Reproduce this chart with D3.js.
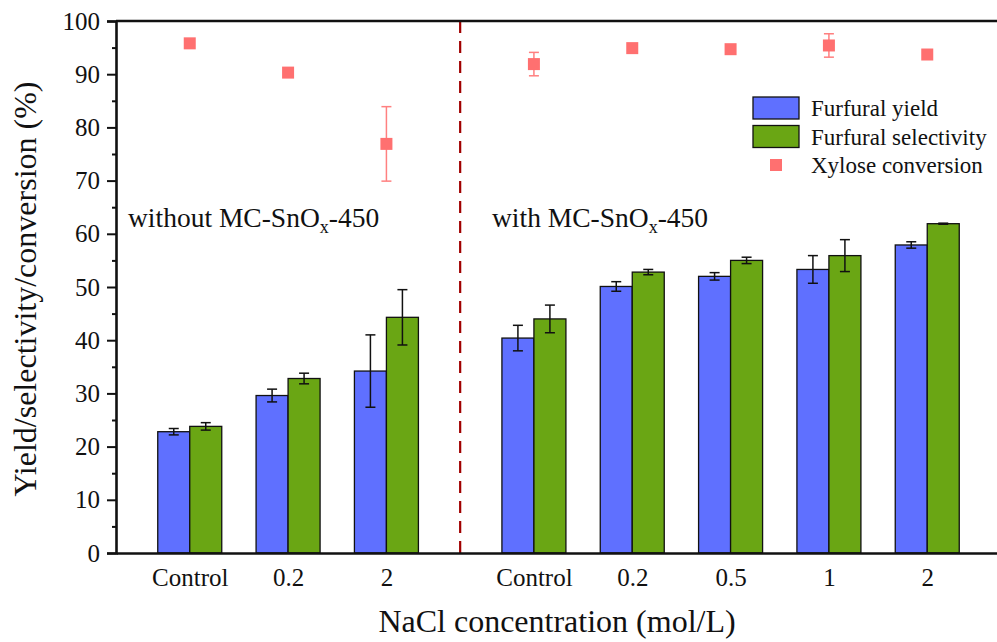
<!DOCTYPE html>
<html>
<head>
<meta charset="utf-8">
<script src="https://cdn.jsdelivr.net/npm/d3@7"></script>
<style>
  body { margin: 0; background: #fff; }
</style>
</head>
<body>
<div id="chart-area"></div>
<script>
// Data
var labels = ["Control", "0.2", "2", "Control", "0.2", "0.5", "1", "2"];
var groups = [0, 0, 0, 1, 1, 1, 1, 1];
var yieldVals = [22.8, 29.6, 34.2, 40.4, 50.1, 52.0, 53.3, 57.9];
var yieldErr = [0.6, 1.2, 6.8, 2.4, 0.9, 0.7, 2.6, 0.6];
var selVals = [23.8, 32.8, 44.3, 44.0, 52.8, 55.0, 55.9, 61.9];
var selErr = [0.7, 1.0, 5.2, 2.6, 0.5, 0.6, 3.0, 0.1];
var convVals = [95.8, 90.3, 76.9, 91.9, 94.9, 94.7, 95.4, 93.7];
var convErr = [0.3, 0.6, 7.0, 2.2, 0.3, 0.3, 2.2, 0.3];
var yTicks = [0, 10, 20, 30, 40, 50, 60, 70, 80, 90, 100];
var groupTitles = ["without MC-SnO", "with MC-SnO"];
var legendNames = ["Furfural yield", "Furfural selectivity", "Xylose conversion"];

var colors = { yield: "#5f70ff", sel: "#6aa614", conv: "#ff7070", divider: "#a00000" };
var serif = "'Liberation Serif', 'Times New Roman', Times, serif";

var W = 997, H = 642;
var margin = {top: 21, left: 116, bottom: 89};
var plotRight = 1001;

var svg = d3.select("#chart-area").append("svg")
    .attr("width", W)
    .attr("height", H);

// slot index: second group starts after an extra half slot
var slots = labels.map((d, i) => { return groups[i] === 0 ? i : i + 0.5; });

var x = d3.scaleLinear().domain([-0.75, 8.25]).range([margin.left, plotRight]);
var y = d3.scaleLinear().domain([0, 100]).range([H - margin.bottom, margin.top]);

var barW = 32;

var rows = labels.map((d, i) => {
    return { i: i, pos: slots[i], yv: yieldVals[i], ye: yieldErr[i],
             sv: selVals[i], se: selErr[i], cv: convVals[i], ce: convErr[i] };
});

// Bars
svg.selectAll(".bar-yield").data(rows).enter().append("rect")
    .attr("class", "bar-yield")
    .attr("x", (d) => { return x(d.pos) - barW; })
    .attr("y", (d) => { return y(d.yv); })
    .attr("width", barW)
    .attr("height", (d) => { return y(0) - y(d.yv); })
    .attr("fill", colors.yield)
    .attr("stroke", "#111")
    .attr("stroke-width", 1.3);

svg.selectAll(".bar-sel").data(rows).enter().append("rect")
    .attr("class", "bar-sel")
    .attr("x", (d) => { return x(d.pos); })
    .attr("y", (d) => { return y(d.sv); })
    .attr("width", barW)
    .attr("height", (d) => { return y(0) - y(d.sv); })
    .attr("fill", colors.sel)
    .attr("stroke", "#111")
    .attr("stroke-width", 1.3);

// Error bars
function errBar(cx, v, e, color, cap) {
    var g = svg.append("g").attr("stroke", color).attr("stroke-width", 1.5);
    g.append("line").attr("x1", cx).attr("x2", cx).attr("y1", y(v - e)).attr("y2", y(v + e));
    g.append("line").attr("x1", cx - cap).attr("x2", cx + cap).attr("y1", y(v + e)).attr("y2", y(v + e));
    g.append("line").attr("x1", cx - cap).attr("x2", cx + cap).attr("y1", y(v - e)).attr("y2", y(v - e));
}
rows.forEach((d) => {
    errBar(x(d.pos) - barW / 2, d.yv, d.ye, "#111", 5);
    errBar(x(d.pos) + barW / 2, d.sv, d.se, "#111", 5);
    errBar(x(d.pos), d.cv, d.ce, "#ff8080", 5);
});

// Conversion markers
svg.selectAll(".conv").data(rows).enter().append("rect")
    .attr("class", "conv")
    .attr("x", (d) => { return x(d.pos) - 6; })
    .attr("y", (d) => { return y(d.cv) - 6; })
    .attr("width", 12)
    .attr("height", 12)
    .attr("fill", colors.conv);

// Divider
svg.append("line")
    .attr("x1", x(2.75)).attr("x2", x(2.75))
    .attr("y1", y(100)).attr("y2", y(0))
    .attr("stroke", colors.divider)
    .attr("stroke-width", 2.2)
    .attr("stroke-dasharray", "12,8");

// Axes
var yAxis = svg.append("g")
    .attr("transform", "translate(" + margin.left + ",0)")
    .call(d3.axisLeft(y).tickValues(yTicks).tickSize(9).tickPadding(7).tickFormat(d3.format("d")));
var yMinor = svg.append("g")
    .attr("transform", "translate(" + margin.left + ",0)")
    .call(d3.axisLeft(y).tickValues(d3.range(5, 100, 10)).tickSize(4).tickFormat(""));
yMinor.select(".domain").remove();

var xAxis = svg.append("g")
    .attr("transform", "translate(0," + y(0) + ")")
    .call(d3.axisBottom(x).tickValues(slots).tickSize(0).tickPadding(15)
        .tickFormat((d, i) => { return labels[i]; }));

svg.selectAll(".tick line").attr("stroke", "#111").attr("stroke-width", 2);
svg.selectAll(".domain").attr("stroke", "#111").attr("stroke-width", 2.6);
yAxis.selectAll("text").attr("font-size", 25).attr("fill", "#111");
xAxis.selectAll("text").attr("font-size", 25).attr("fill", "#111");

// Top frame line
svg.append("line")
    .attr("x1", margin.left).attr("x2", plotRight)
    .attr("y1", y(100)).attr("y2", y(100))
    .attr("stroke", "#111").attr("stroke-width", 2.6);

// Axis titles
svg.append("text")
    .attr("transform", "rotate(-90)")
    .attr("x", -289)
    .attr("y", 36)
    .attr("text-anchor", "middle")
    .attr("font-size", 32)
    .attr("fill", "#111")
    .text("Yield/selectivity/conversion (%)");

svg.append("text")
    .attr("x", 557)
    .attr("y", 632)
    .attr("text-anchor", "middle")
    .attr("font-size", 32)
    .attr("fill", "#111")
    .text("NaCl concentration (mol/L)");

// Group titles
var titleX = [128, 492];
groupTitles.forEach((t, i) => {
    var tx = svg.append("text")
        .attr("x", titleX[i])
        .attr("y", 227)
        .attr("font-size", 27.5)
        .attr("fill", "#111");
    tx.append("tspan").text(t);
    tx.append("tspan").attr("font-size", 18).attr("dy", 6).text("x");
    tx.append("tspan").attr("dy", -6).text("-450");
});

// Legend
var legend = svg.append("g").attr("transform", "translate(753,97)");
[colors.yield, colors.sel].forEach((c, i) => {
    legend.append("rect")
        .attr("x", 0).attr("y", i * 28.5)
        .attr("width", 46).attr("height", 22)
        .attr("fill", c).attr("stroke", "#111").attr("stroke-width", 1.3);
});
legend.append("rect")
    .attr("x", 17).attr("y", 62).attr("width", 12).attr("height", 12)
    .attr("fill", colors.conv);
legendNames.forEach((n, i) => {
    legend.append("text")
        .attr("x", 58)
        .attr("y", 19 + i * 28.5)
        .attr("font-size", 23)
        .attr("fill", "#111")
        .text(n);
});

// Serif everywhere
svg.selectAll("text").style("font-family", serif);
</script>
</body>
</html>
